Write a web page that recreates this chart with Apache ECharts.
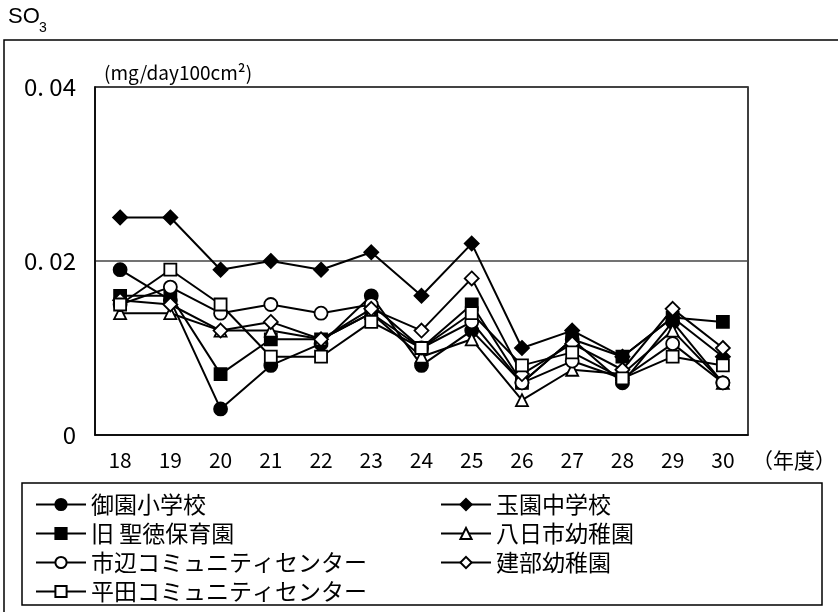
<!DOCTYPE html>
<html>
<head>
<meta charset="utf-8">
<script src="https://cdn.jsdelivr.net/npm/echarts@6/dist/echarts.min.js"></script>
<style>html,body{margin:0;padding:0;background:#fff;}#c{width:838px;height:612px;}</style>
</head>
<body>
<div id="c"></div>
<script>
var years = ['18','19','20','21','22','23','24','25','26','27','28','29','30'];
var misono   = [0.019, 0.0155, 0.003, 0.008, 0.0105, 0.016, 0.008, 0.012, 0.006, 0.011, 0.006, 0.013, 0.006];
var tamazono = [0.025, 0.025, 0.019, 0.020, 0.019, 0.021, 0.016, 0.022, 0.010, 0.012, 0.009, 0.0135, 0.009];
var seitoku  = [0.016, 0.016, 0.007, 0.011, 0.011, 0.014, 0.010, 0.015, 0.006, 0.011, 0.009, 0.0135, 0.013];
var youkaichi= [0.014, 0.014, 0.012, 0.012, 0.011, 0.014, 0.009, 0.011, 0.004, 0.0075, 0.007, 0.012, 0.006];
var ichinobe = [0.015, 0.017, 0.014, 0.015, 0.014, 0.015, 0.010, 0.013, 0.006, 0.0085, 0.0065, 0.0105, 0.006];
var takebe   = [0.0155, 0.015, 0.012, 0.013, 0.011, 0.0145, 0.012, 0.018, 0.007, 0.0105, 0.0075, 0.0145, 0.010];
var hirata   = [0.015, 0.019, 0.015, 0.009, 0.009, 0.013, 0.010, 0.014, 0.008, 0.0095, 0.0065, 0.009, 0.008];
var names = ['御園小学校','玉園中学校','旧 聖徳保育園','八日市幼稚園','市辺コミュニティセンター','建部幼稚園','平田コミュニティセンター'];

var FONT = '"Noto Sans CJK JP", sans-serif';
var SANS = '"Liberation Sans", Arial, sans-serif';
var DIAMOND = 'path://M0,-1L1,0L0,1L-1,0Z';
function mk(name, data, symbol, filled, size) {
  return {
    name: name, type: 'line', data: data, symbol: symbol, symbolSize: size,
    lineStyle: {color: '#000', width: 2},
    itemStyle: {color: filled ? '#000' : '#fff', borderColor: '#000', borderWidth: 1.8},
    emphasis: {disabled: true}, animation: false
  };
}
var chart = echarts.init(document.getElementById('c'));
chart.setOption({
  animation: false,
  title: [
    {text: 'SO', left: 4, top: 2, padding: 4, textStyle: {color: '#000', fontSize: 22, fontWeight: 'normal', fontFamily: SANS}},
    {text: '3', left: 35, top: 17, padding: 4, textStyle: {color: '#000', fontSize: 14, fontWeight: 'normal', fontFamily: SANS}},
    {text: '（年度）', left: 748, top: 446, padding: 4, textStyle: {color: '#000', fontSize: 21, fontWeight: 'normal', fontFamily: FONT}}
  ],
  grid: {left: 95, top: 87, width: 653, height: 348, show: true, borderColor: '#000', borderWidth: 1.5, containLabel: false},
  xAxis: {
    type: 'category', data: years, boundaryGap: true,
    axisTick: {show: false},
    axisLine: {lineStyle: {color: '#000', width: 1.5}},
    axisLabel: {color: '#000', fontSize: 21, fontFamily: FONT, margin: 15}
  },
  yAxis: {
    type: 'value', min: 0, max: 0.04, interval: 0.02,
    name: '(mg/day100cm²)', nameLocation: 'end', nameGap: 5,
    nameTextStyle: {color: '#000', fontSize: 19, fontFamily: FONT, align: 'left', padding: [0, 0, 0, 9]},
    axisTick: {show: false},
    axisLine: {show: true, lineStyle: {color: '#000', width: 1.5}},
    splitLine: {lineStyle: {color: '#444', width: 1.5}},
    axisLabel: {color: '#000', fontSize: 24, fontFamily: FONT, margin: 19,
      formatter: function (v) { return v === 0 ? '0' : v.toFixed(2).replace('.', '. '); }}
  },
  legend: [
    {orient: 'vertical', left: 30, top: 488, itemGap: 6, itemWidth: 50, itemHeight: 14,
     textStyle: {color: '#000', fontSize: 23, lineHeight: 23, fontFamily: FONT},
     data: [names[0], names[2], names[4], names[6]]},
    {orient: 'vertical', left: 435, top: 488, itemGap: 6, itemWidth: 50, itemHeight: 14,
     textStyle: {color: '#000', fontSize: 23, lineHeight: 23, fontFamily: FONT},
     data: [names[1], names[3], names[5]]}
  ],
  graphic: [
    {type: 'polyline', shape: {points: [[4, 612], [4, 40], [838, 40]]}, style: {stroke: '#000', lineWidth: 1.5, fill: null}},
    {type: 'rect', shape: {x: 22, y: 483, width: 800, height: 122}, style: {stroke: '#000', lineWidth: 1.5, fill: null}}
  ],
  series: [
    mk(names[0], misono, 'circle', true, 13),
    mk(names[1], tamazono, DIAMOND, true, 14),
    mk(names[2], seitoku, 'rect', true, 12),
    mk(names[3], youkaichi, 'triangle', false, 12),
    mk(names[4], ichinobe, 'circle', false, 13),
    mk(names[5], takebe, DIAMOND, false, 14),
    mk(names[6], hirata, 'rect', false, 12)
  ]
});
</script>
</body>
</html>
